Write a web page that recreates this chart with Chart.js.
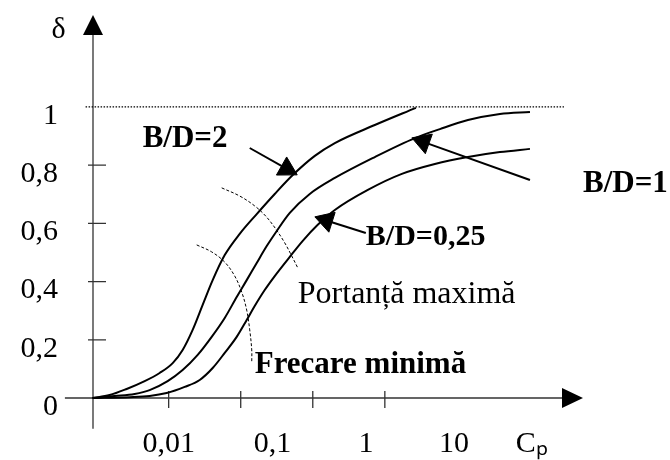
<!DOCTYPE html>
<html>
<head>
<meta charset="utf-8">
<script src="https://cdn.jsdelivr.net/npm/chart.js@4"></script>
<style>
html, body { margin: 0; background: #fff; }
#wrap { width: 670px; height: 460px; }
</style>
</head>
<body>
<div id="wrap"><canvas id="chart"></canvas></div>
<script>
// x is in decades (log10 Cp) as drawn on the figure
const yTicks = [0, 0.2, 0.4, 0.6, 0.8, 1];
const yTickLabels = ['0', '0,2', '0,4', '0,6', '0,8', '1'];
const xTickMarks = [-2, -1, 0, 1];
const xLabelPos = [-2.0, -0.56, 0.74, 1.96, 3.04];
const xLabels = ['0,01', '0,1', '1', '10', 'Cₚ'];

// B/D=2
const bd2X = [-3.056, -2.819, -2.583, -2.333, -2.125, -1.944, -1.806, -1.667, -1.528, -1.389, -1.222, -1.014, -0.778, -0.528, -0.278, 0.028, 0.306, 0.861, 1.431];
const bd2Y = [0, 0.010, 0.031, 0.058, 0.086, 0.120, 0.165, 0.234, 0.320, 0.405, 0.491, 0.564, 0.632, 0.701, 0.766, 0.832, 0.876, 0.938, 0.997];
// B/D=1
const bd1X = [-3.056, -2.75, -2.472, -2.264, -2.014, -1.806, -1.597, -1.403, -1.222, -1.056, -0.917, -0.778, -0.639, -0.5, -0.319, -0.042, 0.306, 0.861, 1.417, 1.764, 2.153, 2.597, 3.014];
const bd1Y = [0, 0.007, 0.014, 0.027, 0.058, 0.096, 0.148, 0.210, 0.275, 0.347, 0.405, 0.464, 0.522, 0.574, 0.636, 0.701, 0.756, 0.828, 0.893, 0.924, 0.955, 0.976, 0.983];
// B/D=0,25
const bd025X = [-3.056, -2.542, -2.264, -2.028, -1.778, -1.569, -1.389, -1.222, -1.056, -0.917, -0.806, -0.667, -0.528, -0.319, -0.139, 0.069, 0.306, 0.764, 1.236, 1.694, 2.153, 2.597, 3.014];
const bd025Y = [0, 0.003, 0.007, 0.017, 0.038, 0.062, 0.103, 0.155, 0.210, 0.268, 0.316, 0.371, 0.419, 0.485, 0.540, 0.595, 0.646, 0.715, 0.770, 0.804, 0.828, 0.845, 0.856];

// dashed zone limits
const maxBearX = [-1.264, -1.014, -0.806, -0.653, -0.514, -0.389, -0.292, -0.208];
const maxBearY = [0.722, 0.694, 0.660, 0.625, 0.581, 0.533, 0.488, 0.447];
const minFricX = [-1.611, -1.403, -1.222, -1.083, -0.986, -0.917, -0.875, -0.847, -0.847];
const minFricY = [0.526, 0.502, 0.467, 0.419, 0.364, 0.302, 0.234, 0.165, 0.124];

// pointer arrows: [start, head]
const arrow2X = [-0.875, -0.361], arrow2Y = [0.859, 0.787];
const arrow1X = [3.014, 1.532], arrow1Y = [0.749, 0.880];
const arrow025X = [0.736, 0.1875], arrow025Y = [0.567, 0.610];

const limitX = [-3.153, 3.486], limitY = [1, 1];

const labels = [
  { text: 'δ', x: -3.625, y: 1.237, font: '30px' },
  { text: 'B/D=2', x: -2.361, y: 0.863, font: 'bold 31px' },
  { text: 'B/D=1', x: 3.75, y: 0.708, font: 'bold 31px' },
  { text: 'B/D=0,25', x: 0.736, y: 0.526, font: 'bold 30px' },
  { text: 'Portanță maximă', x: -0.208, y: 0.326, font: '32px' },
  { text: 'Frecare minimă', x: -0.806, y: 0.086, font: 'bold 31px' }
];

const serif = "'Liberation Serif', 'Times New Roman', serif";
Chart.defaults.font.family = serif;
Chart.defaults.color = '#000';

const pts = (xs, ys) => xs.map((v, i) => ({ x: v, y: ys[i] }));

const curve = (data) => ({
  data, borderColor: '#000', borderWidth: 2, pointRadius: 0, cubicInterpolationMode: 'monotone', clip: false
});
const dashed = (data) => ({
  data, borderColor: '#000', borderWidth: 1, borderDash: [3, 2], pointRadius: 0, tension: 0.35, clip: false
});
const pointer = (data) => ({
  data, borderColor: '#000', backgroundColor: '#000', borderWidth: 2, clip: false,
  pointStyle: 'triangle',
  pointRadius: c => c.dataIndex === 1 ? 12 : 0,
  pointBorderWidth: 1,
  rotation: c => {
    const d = c.dataset.data, sx = c.chart.scales.x, sy = c.chart.scales.y;
    const dx = sx.getPixelForValue(d[1].x) - sx.getPixelForValue(d[0].x);
    const dy = sy.getPixelForValue(d[1].y) - sy.getPixelForValue(d[0].y);
    return Math.atan2(dx, -dy) * 180 / Math.PI;
  }
});

const axesPlugin = {
  id: 'axes',
  beforeDatasetsDraw(chart) {
    const { ctx, scales: { x, y } } = chart;
    const x0 = x.getPixelForValue(-3.05), y0 = y.getPixelForValue(0);
    ctx.save();
    ctx.strokeStyle = '#333';
    ctx.lineWidth = 1.3;
    ctx.beginPath();
    ctx.moveTo(x.getPixelForValue(-3.44), y0);
    ctx.lineTo(x.right - 20, y0);
    ctx.moveTo(x0, y.getPixelForValue(-0.106));
    ctx.lineTo(x0, y.top + 20);
    xTickMarks.forEach(v => {
      const px = x.getPixelForValue(v);
      ctx.moveTo(px, y0 - 7);
      ctx.lineTo(px, y0 + 10);
    });
    yTicks.slice(1, -1).forEach(v => {
      const py = y.getPixelForValue(v);
      ctx.moveTo(x0 - 5, py);
      ctx.lineTo(x0 + 13, py);
    });
    ctx.stroke();
    ctx.fillStyle = '#000';
    ctx.beginPath();
    ctx.moveTo(x.right, y0);
    ctx.lineTo(x.right - 21, y0 - 10);
    ctx.lineTo(x.right - 21, y0 + 10);
    ctx.closePath();
    ctx.moveTo(x0, y.top);
    ctx.lineTo(x0 - 10, y.top + 20);
    ctx.lineTo(x0 + 10, y.top + 20);
    ctx.closePath();
    ctx.fill();
    ctx.restore();
  },
  afterDatasetsDraw(chart) {
    const { ctx, scales: { x, y } } = chart;
    ctx.save();
    ctx.fillStyle = '#000';
    ctx.textBaseline = 'alphabetic';
    ctx.textAlign = 'left';
    labels.forEach(l => {
      ctx.font = l.font + ' ' + serif;
      ctx.fillText(l.text, x.getPixelForValue(l.x), y.getPixelForValue(l.y));
    });
    ctx.restore();
  }
};

new Chart(document.getElementById('chart'), {
  type: 'line',
  data: {
    datasets: [
      curve(pts(bd2X, bd2Y)),
      curve(pts(bd1X, bd1Y)),
      curve(pts(bd025X, bd025Y)),
      dashed(pts(maxBearX, maxBearY)),
      dashed(pts(minFricX, minFricY)),
      { data: pts(limitX, limitY), borderColor: '#000', borderWidth: 1.2, borderDash: [1.5, 1.5], pointRadius: 0, clip: false },
      pointer(pts(arrow2X, arrow2Y)),
      pointer(pts(arrow1X, arrow1Y)),
      pointer(pts(arrow025X, arrow025Y))
    ]
  },
  options: {
    responsive: true,
    maintainAspectRatio: false,
    devicePixelRatio: 1,
    animation: false,
    layout: { padding: { left: 0, right: 87, top: 15, bottom: 0 } },
    plugins: { legend: { display: false }, tooltip: { enabled: false } },
    scales: {
      x: {
        type: 'linear', min: -3.05, max: 3.75,
        grid: { display: false, drawTicks: false },
        border: { display: false },
        afterBuildTicks: s => { s.ticks = xLabelPos.map(v => ({ value: v })); },
        afterFit: s => { s.height = 62; s.paddingLeft = 0; s.paddingRight = 0; },
        ticks: { autoSkip: false, maxRotation: 0, padding: 28, font: { size: 30 }, callback: (v, i) => xLabels[i] }
      },
      y: {
        type: 'linear', min: 0, max: 1.316,
        grid: { display: false, drawTicks: false },
        border: { display: false },
        afterBuildTicks: s => { s.ticks = yTicks.map(v => ({ value: v })); },
        afterFit: s => { s.width = 93; s.paddingTop = 0; s.paddingBottom = 0; },
        ticks: { autoSkip: false, padding: 35, labelOffset: 9, font: { size: 30 }, callback: (v, i) => yTickLabels[i] }
      }
    }
  },
  plugins: [axesPlugin]
});
</script>
</body>
</html>
